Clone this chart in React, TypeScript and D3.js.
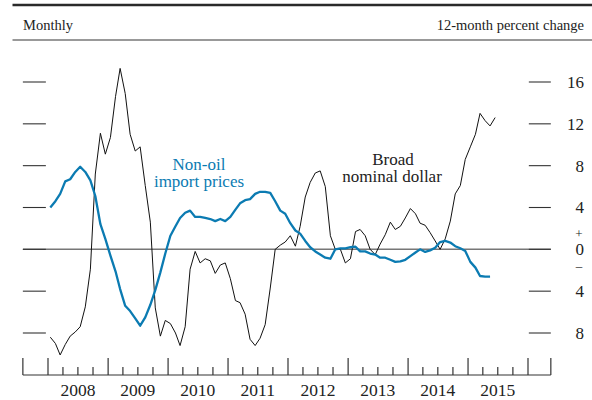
import React, { useEffect, useRef } from "react";
import * as d3 from "d3";

// monthly values, starting January 2008
const startYear = 2008;
const importPrices = [
  4.0, 4.6, 5.3, 6.5, 6.7, 7.4, 7.9, 7.4, 6.6, 5.1, 2.4, 1.0,
  -0.6, -2.1, -3.8, -5.4, -5.9, -6.6, -7.3, -6.5, -5.3, -3.9, -2.2, -0.4,
  1.3, 2.2, 3.0, 3.5, 3.7, 3.1, 3.1, 3.0, 2.9, 2.7, 2.9, 2.7,
  3.1, 3.8, 4.4, 4.7, 4.8, 5.3, 5.5, 5.5, 5.4, 4.6, 3.7, 3.4,
  2.5, 1.8, 1.5, 0.8, 0.2, -0.2, -0.5, -0.8, -0.9, 0.0, 0.1, 0.1,
  0.2, 0.25, -0.2, -0.2, -0.4, -0.5, -0.8, -0.8, -1.0, -1.2, -1.15, -1.0,
  -0.65, -0.3, 0.0, -0.25, -0.1, 0.15, 0.7, 0.8, 0.65, 0.3, 0.1, -0.15,
  -1.2, -1.75, -2.55, -2.6, -2.6,
];
const broadDollar = [
  -8.4, -9.0, -10.1, -9.1, -8.3, -7.9, -7.4, -5.5, -1.9, 7.2, 11.1, 9.1,
  10.7, 14.6, 17.3, 14.9, 11.0, 9.4, 9.8, 6.1, 2.6, -5.6, -8.3, -6.8,
  -7.1, -8.0, -9.2, -7.4, -1.9, -0.2, -1.3, -0.9, -1.1, -2.3, -1.5, -1.3,
  -2.8, -4.9, -5.1, -6.2, -8.6, -9.2, -8.5, -7.2, -3.7, 0.0, 0.4, 0.7,
  1.3, 0.3, 2.2, 5.0, 6.4, 7.3, 7.5, 6.0, 1.3, 0.0, 0.0, -1.3,
  -0.9, 1.7, 1.9, 1.3, 0.0, -0.5, 0.5, 1.4, 2.6, 1.9, 2.2, 3.0,
  3.9, 3.4, 2.5, 2.3, 1.6, 0.8, 0.0, 1.0, 2.7, 5.3, 6.1, 8.6,
  9.8, 11.0, 13.0, 12.3, 11.8, 12.6,
];
const years = [2008, 2009, 2010, 2011, 2012, 2013, 2014, 2015];
const yTicks = [16, 12, 8, 4, 0, -4, -8];

const blue = "#0b7bb2";
const font = "Liberation Serif, DejaVu Serif, serif";

function App() {
  const ref = useRef(null);

  useEffect(() => {
    const svg = d3.select(ref.current);
    svg.selectAll("*").remove();

    const width = 592;
    const height = 400;

    const x = d3
      .scaleTime()
      .domain([new Date(2008, 0, 1), new Date(2016, 0, 1)])
      .range([48, 528]);
    const y = d3.scaleLinear().domain([-8, 16]).range([333, 82]);

    const axisLeft = x(new Date(2007, 7, 1));
    const axisRight = x(new Date(2016, 4, 19));
    const axisY = 375;

    svg.attr("width", width).attr("height", height).style("font-family", font);

    // header
    svg
      .append("line")
      .attr("x1", 12.5)
      .attr("x2", width)
      .attr("y1", 5)
      .attr("y2", 5)
      .attr("stroke", "#2a2a2a")
      .attr("stroke-width", 2.5);
    svg
      .append("line")
      .attr("x1", 12.5)
      .attr("x2", width)
      .attr("y1", 40)
      .attr("y2", 40)
      .attr("stroke", "#777")
      .attr("stroke-width", 1.5);
    svg
      .append("text")
      .attr("x", 23)
      .attr("y", 30)
      .attr("font-size", 14.5)
      .attr("fill", "#222")
      .text("Monthly");
    svg
      .append("text")
      .attr("x", 584)
      .attr("y", 30)
      .attr("text-anchor", "end")
      .attr("font-size", 14.5)
      .attr("fill", "#222")
      .text("12-month percent change");

    // zero line
    svg
      .append("line")
      .attr("x1", axisLeft)
      .attr("x2", axisRight)
      .attr("y1", y(0))
      .attr("y2", y(0))
      .attr("stroke", "#777")
      .attr("stroke-width", 1.5);

    // y ticks on both sides
    const tickG = svg.append("g").attr("stroke", "#333").attr("stroke-width", 1.1);
    yTicks.forEach((t) => {
      tickG
        .append("line")
        .attr("x1", axisLeft)
        .attr("x2", axisLeft + 23)
        .attr("y1", y(t))
        .attr("y2", y(t));
      tickG
        .append("line")
        .attr("x1", axisRight - 22)
        .attr("x2", axisRight)
        .attr("y1", y(t))
        .attr("y2", y(t));
    });

    svg
      .selectAll(".ylab")
      .data(yTicks)
      .enter()
      .append("text")
      .attr("class", "ylab")
      .attr("x", 584)
      .attr("y", (d) => y(d))
      .attr("dy", "0.35em")
      .attr("text-anchor", "end")
      .attr("font-size", 17)
      .attr("fill", "#222")
      .text((d) => Math.abs(d));

    // sign markers around zero
    svg
      .append("text")
      .attr("x", 579)
      .attr("y", y(0) - 16)
      .attr("dy", "0.35em")
      .attr("text-anchor", "middle")
      .attr("font-size", 13)
      .attr("fill", "#222")
      .text("+");
    svg
      .append("text")
      .attr("x", 579)
      .attr("y", y(0) + 16)
      .attr("dy", "0.35em")
      .attr("text-anchor", "middle")
      .attr("font-size", 13)
      .attr("fill", "#222")
      .text("\u2013");

    // x axis
    const xg = svg.append("g").attr("stroke", "#333").attr("stroke-width", 1.2);
    xg.append("line")
      .attr("x1", axisLeft)
      .attr("x2", axisRight)
      .attr("y1", axisY)
      .attr("y2", axisY);
    [axisLeft, axisRight].forEach((px) => {
      xg.append("line")
        .attr("x1", px)
        .attr("x2", px)
        .attr("y1", axisY - 17)
        .attr("y2", axisY);
    });
    const quarters = d3.timeMonth.every(3).range(new Date(2008, 0, 1), new Date(2016, 0, 2));
    quarters.forEach((d) => {
      const big = d.getMonth() === 0;
      xg.append("line")
        .attr("x1", x(d))
        .attr("x2", x(d))
        .attr("y1", big ? axisY - 17 : axisY - 8)
        .attr("y2", axisY);
    });

    svg
      .selectAll(".xlab")
      .data(years)
      .enter()
      .append("text")
      .attr("class", "xlab")
      .attr("x", (d) => x(new Date(d, 6, 1)))
      .attr("y", 396)
      .attr("text-anchor", "middle")
      .attr("font-size", 17.5)
      .attr("fill", "#222")
      .text((d) => d);

    // series
    const line = d3
      .line()
      .x((d, i) => x(new Date(startYear, i, 15)))
      .y((d) => y(d));

    svg
      .append("path")
      .datum(broadDollar)
      .attr("d", line)
      .attr("fill", "none")
      .attr("stroke", "#111")
      .attr("stroke-width", 1)
      .attr("stroke-linejoin", "miter");

    svg
      .append("path")
      .datum(importPrices)
      .attr("d", line)
      .attr("fill", "none")
      .attr("stroke", blue)
      .attr("stroke-width", 2.3)
      .attr("stroke-linejoin", "round");

    // labels
    const blueLab = svg
      .append("text")
      .attr("text-anchor", "middle")
      .attr("font-size", 17)
      .attr("fill", blue);
    blueLab.append("tspan").attr("x", 199).attr("y", 170).text("Non-oil");
    blueLab.append("tspan").attr("x", 199).attr("y", 187).text("import prices");

    const blackLab = svg
      .append("text")
      .attr("text-anchor", "middle")
      .attr("font-size", 17)
      .attr("fill", "#222");
    blackLab.append("tspan").attr("x", 393).attr("y", 165).text("Broad");
    blackLab.append("tspan").attr("x", 392).attr("y", 182).text("nominal dollar");
  }, []);

  return (
    <div style={{ position: "absolute", left: 0, top: 0, background: "#fff" }}>
      <svg ref={ref} style={{ display: "block" }}></svg>
    </div>
  );
}

export default App;
